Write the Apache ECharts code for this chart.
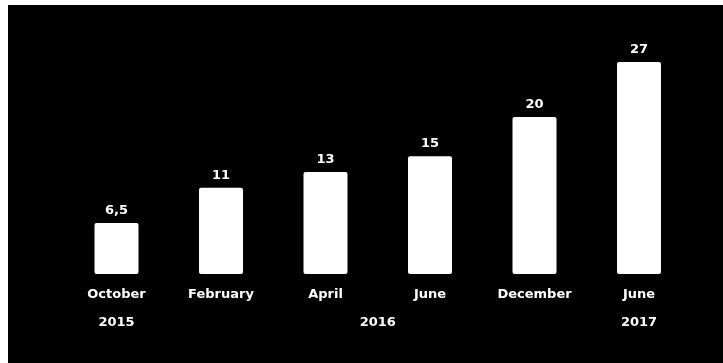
<!DOCTYPE html>
<html>
<head>
<meta charset="utf-8">
<script src="https://cdn.jsdelivr.net/npm/echarts@6/dist/echarts.min.js"></script>
<style>
  html, body { margin: 0; padding: 0; background: #ffffff; width: 723px; height: 363px; overflow: hidden; }
  #chart { position: absolute; left: 8px; top: 5px; width: 715px; height: 358px; background: #000000; }
</style>
</head>
<body>
<div id="chart"></div>
<script>
// Monthly categories and their values
const months = ['October', 'February', 'April', 'June', 'December', 'June'];
const values = [6.5, 11, 13, 15, 20, 27];
// Year labels placed along the category axis (position in category units)
const yearPositions = [0, 2.5, 5];
const yearLabels = ['2015', '2016', '2017'];

const chart = echarts.init(document.getElementById('chart'));
const textStyle = {
  color: '#ffffff',
  fontFamily: 'DejaVu Sans',
  fontWeight: 'bold',
  fontSize: 13,
  letterSpacing: 0.8
};

chart.setOption({
  backgroundColor: '#000000',
  animation: false,
  grid: { left: 56.25, width: 627, top: 33.5, bottom: 89, containLabel: false },
  xAxis: [
    {
      type: 'category',
      data: months,
      axisLine: { show: false },
      axisTick: { show: false },
      axisLabel: Object.assign({ margin: 14 }, textStyle)
    },
    {
      type: 'value',
      position: 'bottom',
      offset: 27,
      min: -0.5,
      max: 5.5,
      splitLine: { show: false },
      axisLine: { show: false },
      axisTick: { show: false },
      axisLabel: Object.assign({
        customValues: yearPositions,
        formatter: v => yearLabels[yearPositions.indexOf(v)] || '',
        margin: 15
      }, textStyle)
    }
  ],
  yAxis: {
    type: 'value',
    min: 0,
    max: 30,
    show: false
  },
  series: [{
    type: 'bar',
    data: values,
    barWidth: 44,
    itemStyle: { color: '#ffffff', borderRadius: 2 },
    label: Object.assign({
      show: true,
      position: 'top',
      distance: 6,
      formatter: p => String(p.value).replace('.', ',')
    }, textStyle)
  }]
});
</script>
</body>
</html>
